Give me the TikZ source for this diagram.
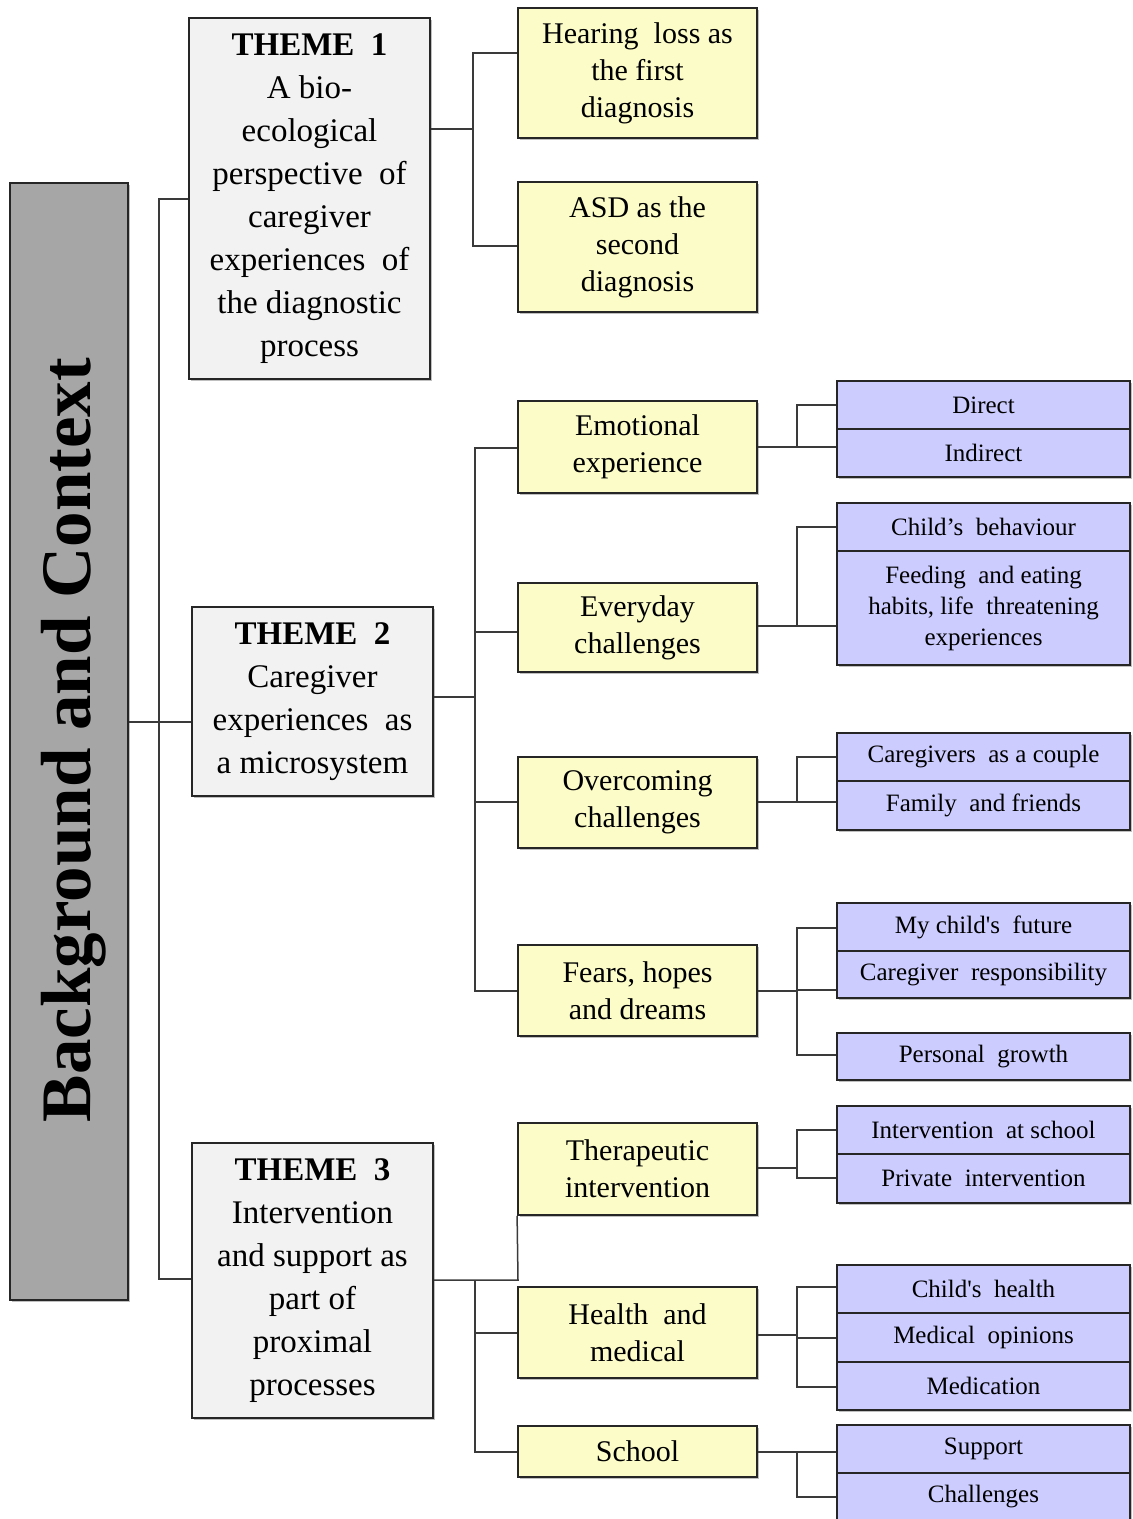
\documentclass[tikz,border=0pt]{standalone}
\usepackage{fontspec}
\setmainfont{Liberation Serif}
\usetikzlibrary{shadows}
\definecolor{bgray}{HTML}{A6A6A6}
\definecolor{tgray}{HTML}{F2F2F2}
\definecolor{ylw}{HTML}{FCFCC9}
\definecolor{prp}{HTML}{CCCCFF}
\definecolor{edge}{HTML}{262626}
\definecolor{lnk}{HTML}{3A3A3A}
\tikzset{
  basebox/.style={draw=edge, line width=0.9pt, inner sep=2pt, align=center,
    drop shadow={shadow xshift=1.2pt, shadow yshift=-1.2pt, opacity=0.25, fill=black}},
  themebox/.style={basebox, fill=tgray, minimum width=120.5pt,
    font=\fontsize{16.5}{21.5}\selectfont},
  ybox/.style={basebox, fill=ylw, minimum width=119.5pt,
    font=\fontsize{15}{18.5}\selectfont},
  pbox/.style={basebox, fill=prp, minimum width=146.5pt,
    font=\fontsize{12.5}{15.5}\selectfont},
  conn/.style={draw=lnk, line width=0.75pt}
}
\begin{document}
\begin{tikzpicture}[x=0.5pt, y=-0.5pt]
\useasboundingbox (0,0) rectangle (1132,1519);
% left box
\node[basebox, fill=bgray, minimum width=59pt, minimum height=558.5pt, inner sep=0pt] (bg) at (69,741.5) {};
\node[rotate=90, font=\fontsize{35.5}{40}\selectfont\bfseries] (bgt) at (74,740) {Background and Context};
% themes
\node[themebox, minimum height=180.5pt] (t1) at (309.5,198.5) {\textbf{THEME\ \ 1}\\A bio-\\ecological\\perspective\ \ of\\caregiver\\experiences\ \ of\\the diagnostic\\process};
\node[themebox, minimum height=94.5pt] (t2) at (312.5,701.5) {\textbf{THEME\ \ 2}\\Caregiver\\experiences\ \ as\\a microsystem};
\node[themebox, minimum height=137.5pt] (t3) at (312.5,1280.5) {\textbf{THEME\ \ 3}\\Intervention\\and support as\\part of\\proximal\\processes};
% yellow
\node[ybox, minimum height=65pt] (h1) at (637.5,73) {Hearing\ \ loss as\\the first\\diagnosis};
\node[ybox, minimum height=65pt] (h2) at (637.5,247) {ASD as the\\second\\diagnosis};
\node[ybox, minimum height=46pt] (e1) at (637.5,447) {Emotional\\experience};
\node[ybox, minimum height=44.5pt] (e2) at (637.5,627.5) {Everyday\\challenges};
\node[ybox, minimum height=45.5pt] (e3) at (637.5,802.5) {Overcoming\\challenges};
\node[ybox, minimum height=45.5pt] (e4) at (637.5,990.5) {Fears, hopes\\and dreams};
\node[ybox, minimum height=46pt] (e5) at (637.5,1169) {Therapeutic\\intervention};
\node[ybox, minimum height=45.5pt] (e6) at (637.5,1332.5) {Health\ \ and\\medical};
\node[ybox, minimum height=25.5pt] (e7) at (637.5,1451.5) {School};
% purple
\node[pbox, minimum height=24pt] (p1) at (983.5,405) {Direct};
\node[pbox, minimum height=24pt] (p2) at (983.5,453) {Indirect};
\node[pbox, minimum height=24pt] (p3) at (983.5,527) {Child’s\ \ behaviour};
\node[pbox, minimum height=57pt] (p4) at (983.5,608) {Feeding\ \ and eating\\habits,\ life\ \ threatening\\experiences};
\node[pbox, minimum height=24pt] (p5) at (983.5,757) {Caregivers\ \ as a couple};
\node[pbox, minimum height=24.5pt] (p6) at (983.5,805.5) {Family\ \ and friends};
\node[pbox, minimum height=24pt] (p7) at (983.5,927) {My child\textquotesingle s\ \ future};
\node[pbox, minimum height=23.5pt] (p8) at (983.5,974.5) {Caregiver\ \ responsibility};
\node[pbox, minimum height=23.5pt] (p9) at (983.5,1056.5) {Personal\ \ growth};
\node[pbox, minimum height=24pt] (p10) at (983.5,1130) {Intervention\ \ at school};
\node[pbox, minimum height=24.5pt] (p11) at (983.5,1178.5) {Private\ \ intervention};
\node[pbox, minimum height=24pt] (p12) at (983.5,1289) {Child\textquotesingle s\ \ health};
\node[pbox, minimum height=24.5pt] (p13) at (983.5,1337.5) {Medical\ \ opinions};
\node[pbox, minimum height=24pt] (p14) at (983.5,1386) {Medication};
\node[pbox, minimum height=24pt] (p15) at (983.5,1449) {Support};
\node[pbox, minimum height=24pt] (p16) at (983.5,1497) {Challenges};
% connectors: background to themes
\coordinate (ja) at (159,199);
\coordinate (jb) at (159,1279);
\draw[conn] (t1.west |- ja) -- (ja) -- (jb) -- (t3.west |- jb);
\draw[conn] (bg.east |- 0,722) -- (t2.west |- 0,722);
% theme 1
\coordinate (k1) at (473,53);
\coordinate (k2) at (473,246);
\draw[conn] (t1.east |- 0,129) -- (473,129);
\draw[conn] (h1.west |- k1) -- (k1) -- (k2) -- (h2.west |- k2);
% theme 2
\coordinate (m1) at (475,448);
\coordinate (m4) at (475,991);
\draw[conn] (t2.east |- 0,697) -- (475,697);
\draw[conn] (e1.west |- m1) -- (m1) -- (m4) -- (e4.west |- m4);
\draw[conn] (475,632) -- (e2.west |- 0,632);
\draw[conn] (475,802) -- (e3.west |- 0,802);
% theme 3
\coordinate (n0) at (475,1280);
\coordinate (n1) at (518,1280);
\coordinate (n3) at (475,1452);
\draw[conn] (t3.east |- n0) -- (n0) -- (n1) -- (e5.south west);
\draw[conn] (n0) -- (n3) -- (e7.west |- n3);
\draw[conn] (475,1333) -- (e6.west |- 0,1333);
% emotional
\draw[conn] (e1.east |- 0,447) -- (p2.west |- 0,447);
\draw[conn] (797,447) -- (797,405) -- (p1.west);
% everyday
\draw[conn] (e2.east |- 0,626) -- (p4.west |- 0,626);
\draw[conn] (797,626) -- (797,527) -- (p3.west);
% overcoming
\draw[conn] (e3.east |- 0,802) -- (p6.west |- 0,802);
\draw[conn] (797,802) -- (797,757) -- (p5.west);
% fears
\draw[conn] (e4.east |- 0,991) -- (797,991);
\draw[conn] (p7.west |- 0,928) -- (797,928) -- (797,1055) -- (p9.west |- 0,1055);
\draw[conn] (797,990) -- (p8.west |- 0,990);
% therapeutic
\draw[conn] (e5.east |- 0,1168) -- (797,1168);
\draw[conn] (p10.west |- 0,1130) -- (797,1130) -- (797,1178) -- (p11.west |- 0,1178);
% health
\draw[conn] (e6.east |- 0,1335) -- (797,1335);
\draw[conn] (p12.west |- 0,1287) -- (797,1287) -- (797,1387) -- (p14.west |- 0,1387);
\draw[conn] (797,1338) -- (p13.west |- 0,1338);
% school
\draw[conn] (e7.east |- 0,1452) -- (p15.west |- 0,1452);
\draw[conn] (797,1452) -- (797,1497) -- (p16.west |- 0,1497);
\end{tikzpicture}
\end{document}
